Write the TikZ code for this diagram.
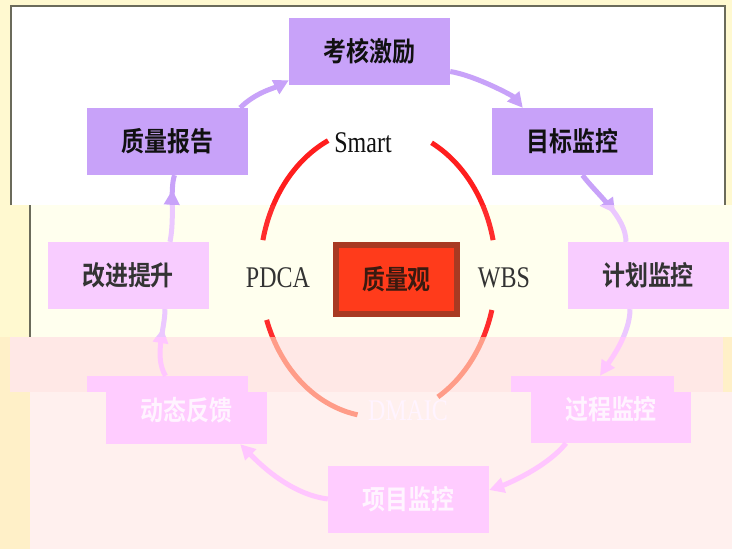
\documentclass[tikz,border=0pt]{standalone}
\usepackage{fontspec}
\setmainfont{Liberation Serif}[FakeStretch=0.8]
\newfontfamily\cjkb{Noto Sans CJK SC Bold}[FakeStretch=0.85]
\usetikzlibrary{arrows.meta,decorations.markings}
\definecolor{basebg}{HTML}{FFF9D0}
\definecolor{midbg}{HTML}{FFFFEE}
\definecolor{stripbg}{HTML}{FFE8E6}
\definecolor{lowbg}{HTML}{FFF0EE}
\definecolor{peachbg}{HTML}{FFF0C8}
\definecolor{framec}{HTML}{6B6B5B}
\definecolor{topfill}{HTML}{C8A2F9}
\definecolor{midfill}{HTML}{F8CCFF}
\definecolor{botfill}{HTML}{FFCCFF}
\definecolor{toptext}{HTML}{111111}
\definecolor{midtext}{HTML}{333333}
\definecolor{toparr}{HTML}{C8A2F9}
\definecolor{midarrc}{HTML}{EBC8FF}
\definecolor{botarr}{HTML}{FFC6FF}
\definecolor{redtop}{HTML}{FF1E1E}
\definecolor{redmid}{HTML}{FF2C2C}
\definecolor{redbot}{HTML}{FF9C88}
\definecolor{corefill}{HTML}{FF3B1B}
\definecolor{coreline}{HTML}{A83A22}
\definecolor{coretext}{HTML}{3A1A10}
\definecolor{bottext}{HTML}{FFF4FF}
\newcommand\myarrows{%
 \draw[arr] ([xshift=-8pt]qr.north east) .. controls +(15,-15) and +(-15,8) .. ([yshift=5pt]kh.south west);
 \draw[arr] ([yshift=-20pt]kh.east) .. controls +(25,4) and +(-10,-12) .. ([xshift=31pt]mb.north west);
 \draw[midarr=0.62] ([xshift=10pt]mb.south) .. controls +(15,20) and +(0,-25) .. ([xshift=-22pt]jh.north);
 \draw[arr] ([xshift=-18pt]jh.south) .. controls +(0,25) and +(10,-15) .. ([xshift=-11pt]gc.north);
 \draw[arr] ([xshift=-45pt]gc.south) .. controls +(-20,25) and +(15,-5) .. ([yshift=9pt]xm.east);
 \draw[arr] (xm.west) .. controls +(-40,-5) and +(15,15) .. ([xshift=-27pt]dt.south east);
 \draw[midarr=0.72] ([xshift=-21pt]dt.north) .. controls +(-12,-20) and +(0,20) .. ([xshift=37pt]gj.south);
 \draw[midarr=0.78] ([xshift=42pt]gj.north) .. controls +(5,-25) and +(-5,15) .. ([xshift=7pt]qr.south);
}
\newcommand\myring{%
 \draw[ering] (ec) ++(192.7:118 and 145) arc[start angle=192.7, end angle=245, x radius=118, y radius=145];
 \draw[ering] (ec) ++(100:118 and 145) arc[start angle=100, end angle=160.7, x radius=118, y radius=145];
 \draw[ering] (ec) ++(15.2:118 and 145) arc[start angle=15.2, end angle=59.5, x radius=118, y radius=145];
 \draw[ering] (ec) ++(-63:118 and 145) arc[start angle=-63, end angle=-12.7, x radius=118, y radius=145];
}
\begin{document}
\begin{tikzpicture}[x=1pt,y=-1pt,
 box/.style={inner sep=0pt, minimum width=161pt, minimum height=67pt, font=\cjkb\fontsize{27}{30}\selectfont},
 topbox/.style={box, fill=topfill, text=toptext},
 midbox/.style={box, fill=midfill, text=midtext},
 botbox/.style={box, fill=botfill, text=bottext},
 lab/.style={inner sep=0pt, anchor=base, font=\fontsize{30}{32}\selectfont},
 arr/.style={line width=5pt, -{Triangle[length=15pt,width=15pt]}},
 midarr/.style={line width=5pt, postaction={decorate}, decoration={markings, mark=at position #1 with {\arrow{Triangle[length=15pt,width=15pt]}}}},
 ering/.style={line width=5pt},
 frame/.style={draw=framec, line width=1.5pt}]
\useasboundingbox (0,0) rectangle (732,549);
% backgrounds
\fill[basebg] (0,0) rectangle (732,549);
\fill[white] (11,6) rectangle (725,205);
\draw[frame] (11,205) -- (11,6) -- (725,6) -- (725,205);
\fill[midbg] (30,205) rectangle (732,337);
\draw[frame] (30,205) -- (30,337);
\fill[peachbg] (0,337) rectangle (30,549);
\fill[peachbg] (723,337) rectangle (732,392);
\fill[stripbg] (10,337) rectangle (723,392);
\fill[lowbg] (30,392) rectangle (732,549);
% nodes
\node[topbox] (kh) at (369.5,51.5) {考核激励};
\node[topbox] (qr) at (167.5,141.5) {质量报告};
\node[topbox] (mb) at (572.5,141.5) {目标监控};
\node[midbox] (gj) at (128,275.5) {改进提升};
\node[midbox] (jh) at (648,275.5) {计划监控};
\node[box, fill=corefill, draw=coreline, line width=6pt, minimum width=121pt, minimum height=69pt, text=coretext] (zl) at (396.5,279.5) {质量观};
\node[botbox, minimum width=160pt] (gc) at (611,409.5) {过程监控};
\node[botbox, minimum height=68pt] (dt) at (186.5,410) {动态反馈};
\node[botbox] (xm) at (408.5,499) {项目监控};
\fill[stripbg] (248,376) rectangle (267,392);
\fill[botfill] (87,376) rectangle (106,392);
\fill[stripbg] (674,376) rectangle (691,392);
\fill[botfill] (511,376) rectangle (531,392);
% labels
\node[lab, text=toptext] (lsmart) at (363,152) {Smart};
\node[lab, text=midtext] (lpdca) at (278,287) {PDCA};
\node[lab, text=midtext] (lwbs) at (504,287) {WBS};
\node[lab, text=bottext] (ldmaic) at (408,420) {DMAIC};
\coordinate (ec) at (378,272);
% banded ring and arrows
\begin{scope}
 \clip (0,0) rectangle (732,205);
 \begin{scope}[color=redtop]\myring\end{scope}
 \begin{scope}[color=toparr]\myarrows\end{scope}
\end{scope}
\begin{scope}
 \clip (0,205) rectangle (732,337);
 \begin{scope}[color=redmid]\myring\end{scope}
 \begin{scope}[color=midarrc]\myarrows\end{scope}
\end{scope}
\begin{scope}
 \clip (0,337) rectangle (732,549);
 \begin{scope}[color=redbot]\myring\end{scope}
 \begin{scope}[color=botarr]\myarrows\end{scope}
\end{scope}
\end{tikzpicture}
\end{document}
